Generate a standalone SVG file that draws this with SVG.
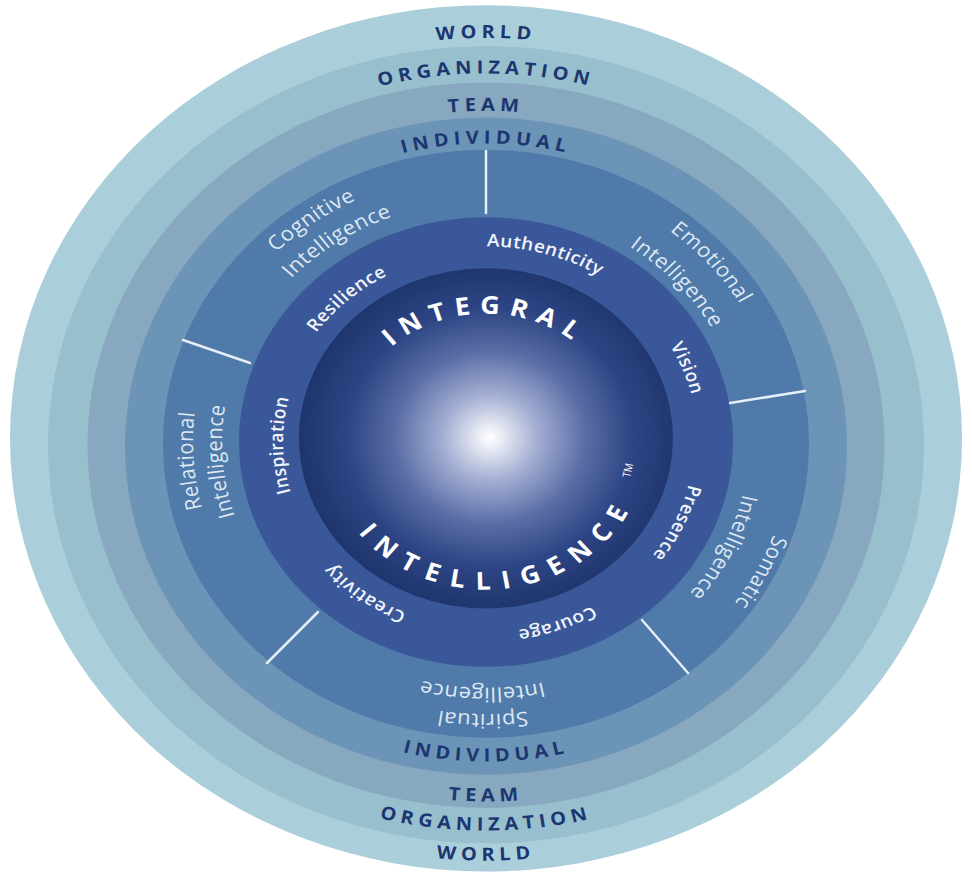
<svg xmlns="http://www.w3.org/2000/svg" width="972" height="875" viewBox="0 0 972 875">
<defs>
<radialGradient id="coreGrad" gradientUnits="userSpaceOnUse" cx="4" cy="-5" r="190">
<stop offset="0" stop-color="#ffffff"/>
<stop offset="0.05" stop-color="#eef0f7"/>
<stop offset="0.25" stop-color="#a3aed2"/>
<stop offset="0.5" stop-color="#5a6da6"/>
<stop offset="0.75" stop-color="#2d4584"/>
<stop offset="1" stop-color="#1e356d"/>
</radialGradient>
<path id="pWorldT" d="M -437.26 -77.10 A 444 444 0 0 1 437.26 -77.10"/>
<path id="pOrgT" d="M -398.85 -70.33 A 405 405 0 0 1 398.85 -70.33"/>
<path id="pTeamT" d="M -358.47 -63.21 A 364 364 0 0 1 358.47 -63.21"/>
<path id="pIndT" d="M -323.02 -56.96 A 328 328 0 0 1 323.02 -56.96"/>
<path id="pIndB" d="M -345.67 60.95 A 351 351 0 0 0 345.67 60.95"/>
<path id="pTeamB" d="M -389.00 68.59 A 395 395 0 0 0 389.00 68.59"/>
<path id="pOrgB" d="M -420.51 74.15 A 427 427 0 0 0 420.51 74.15"/>
<path id="pWorldB" d="M -453.01 79.88 A 460 460 0 0 0 453.01 79.88"/>
<path id="pIntegral" d="M -139.07 -23.27 A 141 141 0 0 1 138.64 -25.70"/>
<path id="pIntelligence" d="M -154.92 47.36 A 162 162 0 0 0 161.78 8.48"/>
<path id="pAuth" d="M -193.24 -94.25 A 215 215 0 0 1 213.82 22.47"/>
<path id="pRes" d="M -177.35 108.68 A 208 208 0 0 1 129.48 -162.78"/>
<path id="pInsp" d="M -31.76 200.50 A 203 203 0 0 1 -38.73 -199.27"/>
<path id="pVis" d="M -44.08 -207.37 A 212 212 0 0 1 112.34 179.79"/>
<path id="pPres" d="M 119.30 -170.38 A 208 208 0 0 1 -53.83 200.91"/>
<path id="pCour" d="M 206.07 -34.86 A 209 209 0 0 1 -181.72 103.24"/>
<path id="pCrea" d="M 141.71 146.75 A 204 204 0 0 1 -183.35 -89.43"/>
<path id="pCog1" d="M -266.94 127.89 A 296 296 0 0 1 207.10 -211.48"/>
<path id="pCog2" d="M -242.09 107.79 A 265 265 0 0 1 190.62 -184.08"/>
<path id="pEmo1" d="M -153.34 -253.19 A 296 296 0 0 1 230.69 185.47"/>
<path id="pEmo2" d="M -139.00 -217.36 A 258 258 0 0 1 204.96 156.71"/>
<path id="pSom1" d="M 185.67 -241.98 A 305 305 0 0 1 -91.72 290.89"/>
<path id="pSom2" d="M 154.58 -212.77 A 263 263 0 0 1 -72.49 252.81"/>
<path id="pSpi1" d="M 293.90 55.00 A 299 299 0 0 1 -294.98 48.84"/>
<path id="pSpi2" d="M 265.22 50.60 A 270 270 0 0 1 -266.53 43.17"/>
<path id="pRel1" d="M -30.63 291.40 A 293 293 0 0 1 -70.88 -284.30"/>
<path id="pRel2" d="M -24.84 262.83 A 264 264 0 0 1 -66.55 -255.47"/>
</defs>
<style>
.band{font-family:"Open Sans","Liberation Sans",sans-serif;font-weight:700;font-size:20px;fill:#1b3670;letter-spacing:5px}
.intel{font-family:"Open Sans","Liberation Sans",sans-serif;font-weight:400;font-size:22px;fill:#dde8f3;letter-spacing:0.5px}
.virtue{font-family:"Open Sans","Liberation Sans",sans-serif;font-weight:600;font-size:19px;fill:#f2f5fb;letter-spacing:0.5px}
.core{font-family:"Open Sans","Liberation Sans",sans-serif;font-weight:700;font-size:27px;fill:#ffffff}
.tm{font-family:"Open Sans","Liberation Sans",sans-serif;font-weight:400;font-size:11px;fill:#ffffff}
.div{stroke:#e6eef7;stroke-width:2.5;stroke-linecap:round}
</style>
<rect width="972" height="875" fill="#ffffff"/>
<g transform="translate(486,442) scale(1,0.91)">
<g id="world"><circle cx="0" cy="-4" r="476" fill="#abcfda"/>
<text class="band" text-anchor="middle"><textPath href="#pWorldT" startOffset="50%">WORLD</textPath></text>
<text class="band" text-anchor="middle"><textPath href="#pWorldB" startOffset="50%">WORLD</textPath></text></g>
<g id="organization"><circle cx="0" cy="3" r="438" fill="#98bfce"/>
<text class="band" text-anchor="middle"><textPath href="#pOrgT" startOffset="50%">ORGANIZATION</textPath></text>
<text class="band" text-anchor="middle"><textPath href="#pOrgB" startOffset="50%">ORGANIZATION</textPath></text></g>
<g id="team"><circle cx="0" cy="3.5" r="398.5" fill="#87a8bf"/>
<text class="band" text-anchor="middle"><textPath href="#pTeamT" startOffset="50%">TEAM</textPath></text>
<text class="band" text-anchor="middle"><textPath href="#pTeamB" startOffset="50%">TEAM</textPath></text></g>
<g id="individual"><circle cx="0" cy="4.5" r="361" fill="#6c94b7"/>
<text class="band" text-anchor="middle"><textPath href="#pIndT" startOffset="50%">INDIVIDUAL</textPath></text>
<text class="band" text-anchor="middle"><textPath href="#pIndB" startOffset="50%">INDIVIDUAL</textPath></text></g>
<g id="intelligences"><circle cx="0" cy="2" r="323" fill="#4f7aa9"/></g>
<g id="virtues"><circle cx="0" cy="0" r="247" fill="#3a5899"/></g>
<g id="core"><circle cx="0" cy="-4" r="187" fill="url(#coreGrad)"/>
<text class="core" text-anchor="middle" letter-spacing="9"><textPath href="#pIntegral" startOffset="50%">INTEGRAL</textPath></text>
<text class="core" text-anchor="middle" letter-spacing="12"><textPath href="#pIntelligence" startOffset="50%">INTELLIGENCE</textPath></text>
<text class="tm" x="141.7" y="30.9" text-anchor="middle" dominant-baseline="central" transform="rotate(-77.7 141.7 30.9)">TM</text></g>
<g id="cognitive"><text class="intel" text-anchor="middle"><textPath href="#pCog1" startOffset="50%">Cognitive</textPath></text>
<text class="intel" text-anchor="middle"><textPath href="#pCog2" startOffset="50%">Intelligence</textPath></text></g>
<g id="emotional"><text class="intel" text-anchor="middle"><textPath href="#pEmo1" startOffset="50%">Emotional</textPath></text>
<text class="intel" text-anchor="middle"><textPath href="#pEmo2" startOffset="50%">Intelligence</textPath></text></g>
<g id="somatic"><text class="intel" text-anchor="middle"><textPath href="#pSom1" startOffset="50%">Somatic</textPath></text>
<text class="intel" text-anchor="middle"><textPath href="#pSom2" startOffset="50%">Intelligence</textPath></text></g>
<g id="spiritual"><text class="intel" text-anchor="middle"><textPath href="#pSpi1" startOffset="50%">Spiritual</textPath></text>
<text class="intel" text-anchor="middle"><textPath href="#pSpi2" startOffset="50%">Intelligence</textPath></text></g>
<g id="relational"><text class="intel" text-anchor="middle"><textPath href="#pRel1" startOffset="50%">Relational</textPath></text>
<text class="intel" text-anchor="middle"><textPath href="#pRel2" startOffset="50%">Intelligence</textPath></text></g>
<g id="authenticity"><text class="virtue" text-anchor="middle"><textPath href="#pAuth" startOffset="50%">Authenticity</textPath></text></g>
<g id="resilience"><text class="virtue" text-anchor="middle"><textPath href="#pRes" startOffset="50%">Resilience</textPath></text></g>
<g id="inspiration"><text class="virtue" text-anchor="middle"><textPath href="#pInsp" startOffset="50%">Inspiration</textPath></text></g>
<g id="vision"><text class="virtue" text-anchor="middle"><textPath href="#pVis" startOffset="50%">Vision</textPath></text></g>
<g id="presence"><text class="virtue" text-anchor="middle"><textPath href="#pPres" startOffset="50%">Presence</textPath></text></g>
<g id="courage"><text class="virtue" text-anchor="middle"><textPath href="#pCour" startOffset="50%">Courage</textPath></text></g>
<g id="creativity"><text class="virtue" text-anchor="middle"><textPath href="#pCrea" startOffset="50%">Creativity</textPath></text></g>
</g>
<g id="connectors">
<line class="div" x1="486" y1="151" x2="486" y2="213"/>
<line class="div" x1="183" y1="340" x2="250" y2="363"/>
<line class="div" x1="730" y1="403" x2="805" y2="391"/>
<line class="div" x1="267" y1="663" x2="318" y2="612"/>
<line class="div" x1="642" y1="620" x2="688" y2="673"/>
</g>
</svg>
